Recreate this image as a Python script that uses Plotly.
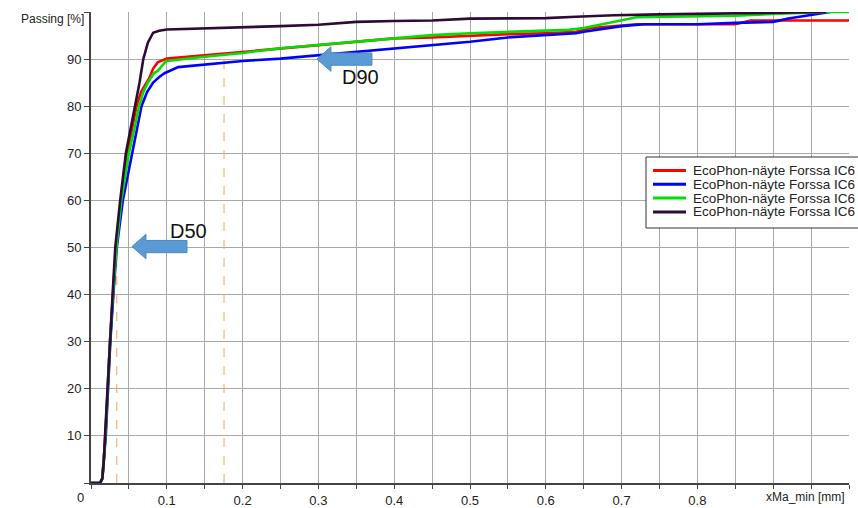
import plotly.graph_objects as go

# ---------------- data ----------------
series_names = ["EcoPhon-näyte Forssa IC6"] * 4
series_colors = ["#FF0000", "#0000FF", "#00E000", "#2E0A36"]

red_x = [0, 0.012, 0.015, 0.017, 0.019, 0.022, 0.025, 0.029, 0.033, 0.0395, 0.048, 0.054, 0.060,
         0.066, 0.072, 0.077, 0.082, 0.088, 0.1, 0.15, 0.2, 0.25, 0.3, 0.35, 0.4, 0.45, 0.5, 0.55,
         0.6, 0.64, 0.66, 0.7, 0.72, 0.85, 0.87, 1.0]
red_y = [0, 0, 1, 5, 10, 20, 30, 40, 50, 60, 70, 75, 80, 83, 84.5, 86, 88, 89.3, 90.1, 90.8, 91.5,
         92.3, 93.0, 93.7, 94.4, 94.6, 95.0, 95.3, 95.5, 95.8, 96.6, 97.2, 97.4, 97.4, 98.2, 98.2]

blue_x = [0, 0.012, 0.015, 0.017, 0.0195, 0.0225, 0.0255, 0.0295, 0.034, 0.042, 0.054, 0.060,
          0.0666, 0.074, 0.082, 0.09, 0.097, 0.115, 0.15, 0.2, 0.25, 0.3, 0.35, 0.4, 0.45, 0.5,
          0.55, 0.6, 0.64, 0.65, 0.7, 0.73, 0.8, 0.85, 0.9, 0.92, 0.95, 0.975]
blue_y = [0, 0, 1, 5, 10, 20, 30, 40, 50, 60, 70, 75, 80, 83, 85, 86.2, 87, 88.3, 88.9, 89.6,
          90.1, 90.8, 91.5, 92.3, 93.0, 93.7, 94.6, 95.1, 95.5, 95.8, 97.0, 97.4, 97.4, 97.7,
          97.9, 98.6, 99.3, 100]

green_x = [0, 0.012, 0.015, 0.017, 0.019, 0.022, 0.025, 0.029, 0.0335, 0.040, 0.050, 0.057,
           0.0635, 0.069, 0.075, 0.083, 0.088, 0.098, 0.1, 0.15, 0.2, 0.25, 0.3, 0.35, 0.4,
           0.45, 0.5, 0.55, 0.6, 0.63, 0.65, 0.7, 0.72, 0.85, 0.9, 0.97, 1.0]
green_y = [0, 0, 1, 5, 10, 20, 30, 40, 50, 60, 70, 75, 80, 83, 85, 87, 87.5, 89.4, 89.6, 90.5,
           91.3, 92.3, 93.0, 93.8, 94.5, 95.1, 95.5, 95.8, 96.0, 96.2, 96.6, 98.2, 98.9, 99.2,
           99.6, 100, 100]

purple_x = [0, 0.012, 0.015, 0.017, 0.0185, 0.0215, 0.0245, 0.0285, 0.032, 0.0385, 0.046, 0.052,
            0.0585, 0.064, 0.069, 0.075, 0.082, 0.09, 0.1, 0.15, 0.2, 0.25, 0.3, 0.35, 0.4, 0.45,
            0.5, 0.55, 0.6, 0.64, 0.69, 0.75, 0.85, 0.9, 0.97]
purple_y = [0, 0, 1, 5, 10, 20, 30, 40, 50, 60, 70, 75, 80, 85, 90, 93.5, 95.6, 96.0, 96.3, 96.5,
            96.8, 97.0, 97.3, 97.9, 98.1, 98.2, 98.6, 98.6, 98.7, 99.0, 99.3, 99.5, 99.7, 99.9, 100]

# characteristic sizes (D50, D90) marked with dashed lines
d_labels = ["D50", "D90"]
d_sizes = [0.034, 0.1755]
d_levels = [50, 90]

x_tickvals = [0, 0.1, 0.2, 0.3, 0.4, 0.5, 0.6, 0.7, 0.8, 0.9, 1.0]
x_ticktext = ["", "0.1", "0.2", "0.3", "0.4", "0.5", "0.6", "0.7", "0.8", "", ""]
y_tickvals = [0, 10, 20, 30, 40, 50, 60, 70, 80, 90, 100]
y_ticktext = ["", "10", "20", "30", "40", "50", "60", "70", "80", "90", ""]

FONT = "Arial, Liberation Sans, sans-serif"

# plot-area geometry in pixels (for placing the hand-drawn legend)
L, R, T, B = 91, 9, 12, 25
W, H = 858, 508
PW, PH = W - L - R, H - T - B


def px_x(px):
    return (px - L) / PW


def px_y(py):
    return (H - B - py) / PH


fig = go.Figure()

# dashed D-lines (drawn first so curves lie above)
for ds, dl in zip(d_sizes, d_levels):
    fig.add_trace(go.Scatter(x=[ds, ds], y=[0, dl], mode="lines",
                             line=dict(color="#F4A060", width=1, dash="dash"),
                             showlegend=False, hoverinfo="skip"))

all_x = [red_x, blue_x, green_x, purple_x]
all_y = [red_y, blue_y, green_y, purple_y]
for name, col, xs, ys in zip(series_names, series_colors, all_x, all_y):
    fig.add_trace(go.Scatter(x=xs, y=ys, mode="lines", name=name, showlegend=False,
                             line=dict(color=col, width=2.6)))


# block arrows pointing at D50 / D90 (annotation decoration)
def block_arrow(tip_x, cy, length=0.0726, head_len=0.0185, head_h=2.6, body_h=1.3):
    hb = tip_x + head_len
    tail = tip_x + length
    return (f"M {tip_x},{cy} L {hb},{cy + head_h} L {hb},{cy + body_h} L {tail},{cy + body_h} "
            f"L {tail},{cy - body_h} L {hb},{cy - body_h} L {hb},{cy - head_h} Z")


arrow_tips = [(0.054, 50.2), (0.298, 90.0)]
for tx, cy in arrow_tips:
    fig.add_shape(type="path", path=block_arrow(tx, cy), xref="x", yref="y",
                  fillcolor="#5B9BD5", line=dict(color="#4F86BE", width=1), layer="above")

annos = [
    dict(x=0.128, y=53.4, text=d_labels[0]),
    dict(x=0.355, y=86.2, text=d_labels[1]),
]
for a in annos:
    fig.add_annotation(x=a["x"], y=a["y"], xref="x", yref="y", text=a["text"], showarrow=False,
                       font=dict(family=FONT, size=20, color="#111111"))

fig.add_annotation(x=0, y=0, xref="x", yref="paper", text="0", showarrow=False,
                   xanchor="center", yanchor="top", xshift=-11, yshift=-5,
                   font=dict(family=FONT, size=13, color="#222222"))
fig.add_annotation(x=px_x(805), y=0, xref="paper", yref="paper", text="xMa_min [mm]",
                   showarrow=False, xanchor="center", yanchor="top", yshift=-5,
                   font=dict(family=FONT, size=12, color="#222222"))
fig.add_annotation(x=px_x(86), y=px_y(19), xref="paper", yref="paper", text="Passing [%]",
                   showarrow=False, xanchor="right", yanchor="middle",
                   font=dict(family=FONT, size=12, color="#222222"))

# hand-drawn legend (compact rows like the original)
fig.add_shape(type="rect", xref="paper", yref="paper",
              x0=px_x(646), x1=px_x(900), y0=px_y(228), y1=px_y(157),
              fillcolor="white", line=dict(color="#333333", width=1), layer="above")
row0, row_step = 170.5, 13.8
for i, (name, col) in enumerate(zip(series_names, series_colors)):
    ry = row0 + i * row_step
    fig.add_shape(type="line", xref="paper", yref="paper",
                  x0=px_x(653), x1=px_x(686), y0=px_y(ry), y1=px_y(ry),
                  line=dict(color=col, width=3), layer="above")
    fig.add_annotation(x=px_x(692), y=px_y(ry), xref="paper", yref="paper", text=name,
                       showarrow=False, xanchor="left", yanchor="middle", borderpad=0,
                       font=dict(family=FONT, size=13.5, color="#222222"))

fig.update_layout(
    width=W, height=H,
    margin=dict(l=L, r=R, t=T, b=B),
    paper_bgcolor="white", plot_bgcolor="white",
    font=dict(family=FONT, size=13, color="#222222"),
    showlegend=False,
)
fig.update_xaxes(range=[0, 1.0], tickvals=x_tickvals, ticktext=x_ticktext, automargin=False,
                 showgrid=True, gridcolor="#A8A8A8", gridwidth=1,
                 minor=dict(dtick=0.05, tick0=0, showgrid=True, gridcolor="#A8A8A8",
                            ticks="outside", ticklen=4, tickcolor="#444444"),
                 ticks="outside", ticklen=4, tickcolor="#444444",
                 showline=True, linecolor="#444444", linewidth=2, zeroline=False,
                 tickfont=dict(family=FONT, size=13, color="#222222"))
fig.update_yaxes(range=[0, 100], tickvals=y_tickvals, ticktext=y_ticktext, automargin=False,
                 showgrid=True, gridcolor="#A8A8A8", gridwidth=1,
                 ticks="outside", ticklen=5, tickcolor="#444444",
                 showline=True, linecolor="#444444", linewidth=2, zeroline=False,
                 tickfont=dict(family=FONT, size=13, color="#222222"))

fig.write_html("out.html", config={"displayModeBar": False},
               post_script="document.body.style.margin='0';")
